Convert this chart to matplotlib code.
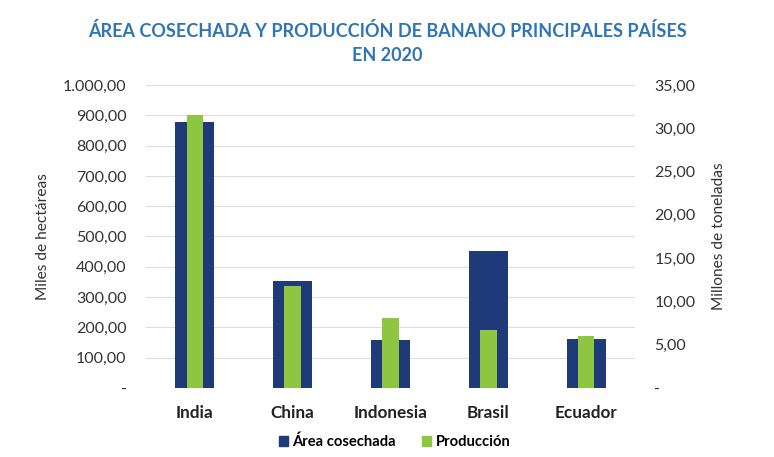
import matplotlib.pyplot as plt
from matplotlib.ticker import FuncFormatter
from matplotlib.patches import Patch
import numpy as np

plt.rcParams['font.family'] = ['Lato', 'DejaVu Sans']

# Data
paises = ['India', 'China', 'Indonesia', 'Brasil', 'Ecuador']
area = [878, 353, 158, 452, 162]          # miles de hectáreas
produccion = [31.5, 11.8, 8.1, 6.7, 6.0]  # millones de toneladas

azul = '#1F3A78'
verde = '#8DC641'
titulo_color = '#2E75B6'


def fmt_es(v, _):
    if abs(v) < 1e-9:
        return '-'
    s = f'{v:,.2f}'
    return s.replace(',', 'X').replace('.', ',').replace('X', '.')


fig = plt.figure(figsize=(7.74, 4.57), dpi=100)
ax = fig.add_axes([0.1886, 0.151, 0.6318, 0.663])
ax2 = ax.twinx()

x = np.arange(len(paises))
ax.bar(x, area, width=0.40, color=azul, zorder=2)
ax2.bar(x, produccion, width=0.17, color=verde, zorder=3)

ax.set_xlim(-0.5, len(paises) - 0.5)
ax.set_ylim(0, 1000)
ax.set_yticks(np.arange(0, 1001, 100))
ax2.set_ylim(0, 35)
ax2.set_yticks(np.arange(0, 36, 5))
ax.yaxis.set_major_formatter(FuncFormatter(fmt_es))
ax2.yaxis.set_major_formatter(FuncFormatter(fmt_es))

ax.grid(axis='y', color='#DEDEDE', linewidth=0.8, zorder=0)
ax.set_axisbelow(True)
for a in (ax, ax2):
    for s in a.spines.values():
        s.set_visible(False)
    a.tick_params(length=0, labelsize=11.5, colors='#333333')
ax.tick_params(axis='y', pad=14)
ax2.tick_params(axis='y', pad=14)

ax.set_xticks(x)
ax.set_xticklabels(paises, fontweight='bold', fontsize=12.3, color='#222222')
ax.tick_params(axis='x', pad=12)

ax.set_ylabel('Miles de hectáreas', fontsize=11.2, color='#333333', labelpad=9)
ax2.set_ylabel('Millones de toneladas', fontsize=11.2, color='#333333', labelpad=12)

fig.text(0.5, 0.906, 'ÁREA COSECHADA Y PRODUCCIÓN DE BANANO PRINCIPALES PAÍSES\nEN 2020',
         ha='center', va='center', fontsize=13, fontweight='bold', color=titulo_color,
         linespacing=1.45)

handles = [Patch(color=azul, label='Área cosechada'), Patch(color=verde, label='Producción')]
fig.legend(handles=handles, loc='center', bbox_to_anchor=(0.51, 0.033), ncol=2, frameon=False,
           handlelength=0.6, handleheight=0.6, handletextpad=0.3,
           columnspacing=1.8, prop={'weight': 'bold', 'size': 10.6})

fig.savefig('out.png', dpi=100)
